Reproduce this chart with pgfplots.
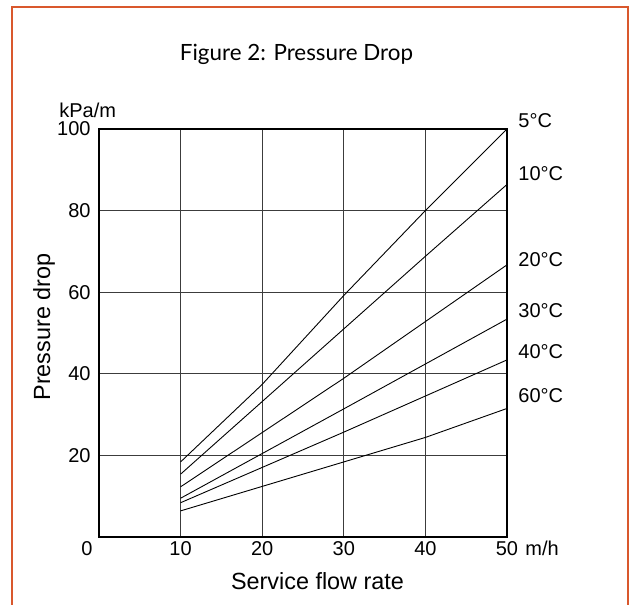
\documentclass[border=0pt]{standalone}
\usepackage{fontspec}
\setmainfont{Liberation Sans}
\newfontfamily\titlefont{Lato}
\usepackage{graphicx}
\usepackage{pgfplots}
\pgfplotsset{compat=1.18}
\definecolor{frameorange}{RGB}{217,88,45}
\definecolor{gridgray}{RGB}{60,60,60}

\begin{document}
\begin{tikzpicture}
\useasboundingbox (0,0) rectangle (314.5pt,302.5pt);
% orange frame, open at the bottom
\draw[frameorange, line width=1pt] (6pt,-2pt) -- (6pt,299.2pt) -- (314.25pt,299.2pt) -- (314.25pt,-2pt);

\begin{axis}[
    at={(49.5pt,34pt)}, anchor=south west,
    scale only axis,
    width=204pt, height=204pt,
    xmin=0, xmax=50, ymin=0, ymax=100,
    xtick={10,20,30,40,50},
    ytick={20,40,60,80,100},
    major tick length=0pt,
    grid=major,
    major grid style={line width=0.45pt, draw=gridgray},
    axis line style={line width=1pt},
    clip=false,
    /pgf/number format/assume math mode=true,
    tick label style={font=\fontsize{10}{12}\selectfont},
    xticklabel style={anchor=base, inner sep=0pt, yshift=-9.5pt},
    yticklabel style={anchor=east, inner sep=0pt, xshift=-4pt},
]
    % 5 degC
    \addplot[black, line width=0.45pt] coordinates {
        (10,18.4) (20,37.4) (30,59.2) (40,80.0) (50,100.0)
    };
    % 10 degC
    \addplot[black, line width=0.45pt] coordinates {
        (10,15.4) (30,51.0) (40,68.8) (50,86.4)
    };
    % 20 degC
    \addplot[black, line width=0.45pt] coordinates {
        (10,12.3) (30,38.9) (50,66.7)
    };
    % 30 degC
    \addplot[black, line width=0.45pt] coordinates {
        (10,9.5) (30,31.4) (50,53.4)
    };
    % 40 degC
    \addplot[black, line width=0.45pt] coordinates {
        (10,8.4) (30,25.7) (50,43.4)
    };
    % 60 degC
    \addplot[black, line width=0.45pt] coordinates {
        (10,6.4) (30,18.4) (40,24.4) (50,31.5)
    };

    \begin{scope}[every node/.style={anchor=west, inner sep=0pt, font=\fontsize{10}{12}\selectfont}]
    \node at (axis cs:50,102.0) [xshift=5.5pt] {5°C};
    \node at (axis cs:50,89.0) [xshift=5.5pt] {10°C};
    \node at (axis cs:50,68.1) [xshift=5.5pt] {20°C};
    \node at (axis cs:50,55.6) [xshift=5.5pt] {30°C};
    \node at (axis cs:50,45.4) [xshift=5.5pt] {40°C};
    \node at (axis cs:50,34.6) [xshift=5.5pt] {60°C};
    \end{scope}
    \node[anchor=base, inner sep=0pt, font=\fontsize{10}{12}\selectfont, xshift=-6pt, yshift=-9.5pt] at (axis cs:0,0) {0};
    \node[anchor=base west, inner sep=0pt, font=\fontsize{10}{12}\selectfont, xshift=9pt, yshift=-9.5pt] at (axis cs:50,0) {m/h};
\end{axis}

\node[anchor=base, inner sep=0pt] at (148.25pt,272pt) {\resizebox{116.5pt}{!}{\titlefont Figure 2: Pressure Drop}};
\node[anchor=west, inner sep=0pt, font=\fontsize{10}{12}\selectfont] at (29.5pt,247.5pt) {kPa/m};
\node[anchor=base, inner sep=0pt, rotate=90, font=\fontsize{11.7}{14}\selectfont] at (25pt,139pt) {Pressure drop};
\node[anchor=base, inner sep=0pt, font=\fontsize{11.7}{14}\selectfont] at (158.75pt,7.5pt) {Service flow rate};
\end{tikzpicture}
\end{document}
